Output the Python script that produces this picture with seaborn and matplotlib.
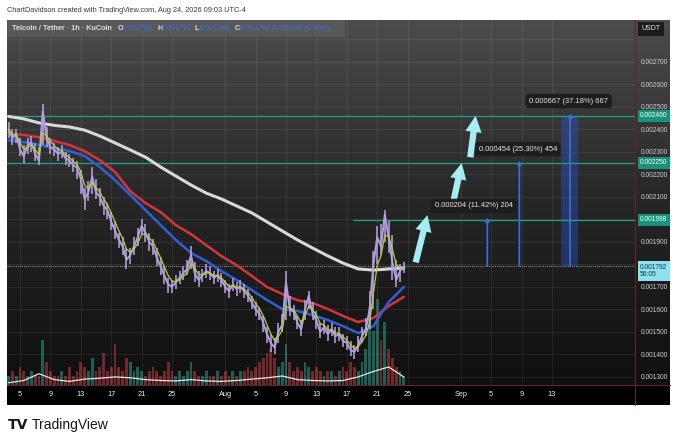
import numpy as np
import pandas as pd
import matplotlib
matplotlib.use('Agg')
import matplotlib.pyplot as plt
import matplotlib.dates as mdates
import matplotlib.transforms as mtransforms
from matplotlib.colors import LinearSegmentedColormap
from matplotlib.patches import FancyArrowPatch, Rectangle
from matplotlib.lines import Line2D
import seaborn as sns

# --- data (TEL/USDT, 1h, KuCoin) ---
# closes, highs, lows sampled every 12h from Jul 3 12:00 to Aug 24
price = [
    0.00240, 0.00236, 0.00238, 0.00231, 0.00228, 0.00233, 0.00234, 0.00229, 0.00226, 0.00248,
    0.00236, 0.00232, 0.00231, 0.00229, 0.00230, 0.00227, 0.00226, 0.00224, 0.00223, 0.00218,
    0.00209, 0.00212, 0.00219, 0.00212, 0.00210, 0.00206, 0.00204, 0.00199, 0.00195, 0.00191,
    0.00188, 0.00182, 0.00184, 0.00188, 0.00192, 0.00197, 0.00194, 0.00190, 0.00188, 0.00183,
    0.00179, 0.00175, 0.00171, 0.00170, 0.00172, 0.00174, 0.00176, 0.00178, 0.00184, 0.00176,
    0.00173, 0.00175, 0.00177, 0.00176, 0.00174, 0.00175, 0.00173, 0.00170, 0.00168, 0.00171,
    0.00169, 0.00170, 0.00168, 0.00166, 0.00163, 0.00160, 0.00158, 0.00154, 0.00149, 0.00145,
    0.00143, 0.00150, 0.00153, 0.00172, 0.00160, 0.00159, 0.00154, 0.00151, 0.00160, 0.00166,
    0.00158, 0.00155, 0.00150, 0.00152, 0.00149, 0.00151, 0.00148, 0.00149, 0.00146, 0.00145,
    0.00142, 0.00141, 0.00144, 0.00148, 0.00151, 0.00160, 0.00180, 0.00192, 0.00188, 0.00202,
    0.00192, 0.00181, 0.00173, 0.00177, 0.00179,
]
high = [
    0.00243, 0.00240, 0.00240, 0.00236, 0.00233, 0.00236, 0.00237, 0.00234, 0.00232, 0.00251,
    0.00241, 0.00236, 0.00234, 0.00232, 0.00233, 0.00230, 0.00229, 0.00227, 0.00226, 0.00222,
    0.00214, 0.00217, 0.00223, 0.00218, 0.00214, 0.00210, 0.00207, 0.00203, 0.00199, 0.00194,
    0.00192, 0.00187, 0.00187, 0.00192, 0.00196, 0.00200, 0.00198, 0.00194, 0.00191, 0.00187,
    0.00183, 0.00179, 0.00174, 0.00173, 0.00175, 0.00177, 0.00179, 0.00182, 0.00188, 0.00181,
    0.00177, 0.00178, 0.00180, 0.00179, 0.00177, 0.00178, 0.00176, 0.00173, 0.00171, 0.00174,
    0.00172, 0.00173, 0.00171, 0.00169, 0.00166, 0.00163, 0.00161, 0.00157, 0.00152, 0.00149,
    0.00147, 0.00154, 0.00158, 0.00177, 0.00166, 0.00162, 0.00157, 0.00155, 0.00164, 0.00168,
    0.00163, 0.00159, 0.00154, 0.00155, 0.00153, 0.00154, 0.00152, 0.00152, 0.00149, 0.00148,
    0.00146, 0.00144, 0.00148, 0.00152, 0.00156, 0.00168, 0.00186, 0.00197, 0.00198, 0.00204,
    0.00199, 0.00193, 0.00182, 0.00180, 0.00181,
]
low = [
    0.00236, 0.00233, 0.00234, 0.00228, 0.00225, 0.00229, 0.00230, 0.00226, 0.00224, 0.00233,
    0.00232, 0.00229, 0.00228, 0.00226, 0.00227, 0.00224, 0.00223, 0.00221, 0.00218, 0.00211,
    0.00204, 0.00208, 0.00211, 0.00209, 0.00206, 0.00202, 0.00200, 0.00195, 0.00191, 0.00187,
    0.00184, 0.00178, 0.00180, 0.00184, 0.00188, 0.00193, 0.00190, 0.00186, 0.00184, 0.00179,
    0.00175, 0.00171, 0.00167, 0.00167, 0.00169, 0.00171, 0.00173, 0.00175, 0.00178, 0.00172,
    0.00170, 0.00172, 0.00174, 0.00173, 0.00171, 0.00172, 0.00170, 0.00167, 0.00165, 0.00168,
    0.00166, 0.00167, 0.00165, 0.00163, 0.00160, 0.00157, 0.00155, 0.00150, 0.00145, 0.00141,
    0.00140, 0.00145, 0.00150, 0.00155, 0.00157, 0.00155, 0.00151, 0.00148, 0.00155, 0.00160,
    0.00155, 0.00151, 0.00147, 0.00149, 0.00146, 0.00148, 0.00145, 0.00146, 0.00143, 0.00142,
    0.00139, 0.00138, 0.00141, 0.00145, 0.00148, 0.00151, 0.00160, 0.00180, 0.00184, 0.00190,
    0.00185, 0.00173, 0.00170, 0.00172, 0.00176,
]
volume = [
    2, 3, 2, 4, 3, 2, 3, 2, 2, 10,
    5, 3, 2, 2, 3, 2, 4, 2, 3, 5,
    4, 3, 6, 3, 4, 7, 3, 4, 9, 4,
    3, 6, 5, 3, 4, 3, 2, 3, 4, 3,
    2, 3, 5, 3, 2, 3, 2, 3, 5, 3,
    2, 2, 3, 2, 2, 3, 2, 3, 2, 3,
    2, 3, 3, 4, 3, 4, 5, 6, 7, 8,
    6, 4, 5, 9, 5, 3, 4, 3, 5, 4,
    3, 4, 3, 2, 3, 3, 2, 3, 4, 3,
    5, 4, 3, 5, 8, 17, 12, 19, 10, 14,
    8, 6, 4, 3, 2,
]
# moving averages sampled every 2 days
ma_white = [0.002457, 0.002446, 0.002428, 0.002417, 0.002410, 0.002396, 0.002370, 0.002339, 0.002308,
            0.002276, 0.002232, 0.002192, 0.002152, 0.002116, 0.002090, 0.002059, 0.002028, 0.001988,
            0.001948, 0.001908, 0.001872, 0.001837, 0.001805, 0.001779, 0.001774, 0.001779, 0.001783]
ma_red = [0.002383, 0.002374, 0.002365, 0.002348, 0.002330, 0.002303, 0.002263, 0.002210, 0.002125,
          0.002072, 0.002032, 0.001974, 0.001934, 0.001885, 0.001836, 0.001796, 0.001748, 0.001699,
          0.001668, 0.001640, 0.001628, 0.001601, 0.001570, 0.001543, 0.001561, 0.001614, 0.001655]
ma_blue = [0.002352, 0.002343, 0.002330, 0.002317, 0.002303, 0.002281, 0.002232, 0.002174, 0.002108,
           0.002041, 0.001974, 0.001908, 0.001850, 0.001814, 0.001770, 0.001730, 0.001685, 0.001641,
           0.001601, 0.001592, 0.001574, 0.001552, 0.001525, 0.001494, 0.001525, 0.001632, 0.001699]
vol_ma = [0.5, 1.0, 2.5, 1.2, 0.8, 1.3, 1.5, 1.8, 1.6, 1.2, 1.0, 0.9, 1.2, 0.9,
          0.8, 1.0, 1.3, 1.6, 2.0, 1.2, 1.0, 0.9, 1.0, 1.8, 3.0, 4.0, 1.8]

levels = [0.002460, 0.002250, 0.001998]
last_price = 0.001792
targets = ['0.000204 (11.42%) 204', '0.000454 (25.30%) 454', '0.000667 (37.18%) 667']

price_dates = pd.date_range('2026-07-03 12:00', periods=len(price), freq='12h')
ma_dates = pd.date_range('2026-07-03 12:00', periods=len(ma_white), freq='2D')
t0 = pd.Timestamp('2026-07-01')

def day(d):
    return mdates.date2num(t0 + pd.Timedelta(days=d))

# --- figure layout (pixel based) ---
W, H = 679, 444
sns.set_style('dark')
plt.rcParams['font.family'] = ['Liberation Sans', 'DejaVu Sans']
fig = plt.figure(figsize=(W / 100, H / 100), dpi=100, facecolor='white')

def fx(px):
    return px / W

def fy(py):
    return 1 - py / H

rect = [fx(7), fy(385), fx(635) - fx(7), fy(20) - fy(385)]

# panel background with gradient
bg = fig.add_axes([fx(7), fy(405), fx(670) - fx(7), fy(20) - fy(405)])
bg.set_facecolor('black')
cmap = LinearSegmentedColormap.from_list('tv', ['#0f0f0f', '#262626', '#4c4c4c'])
grad = np.linspace(0, 1, 256).reshape(-1, 1)
bg.imshow(grad, cmap=cmap, origin='lower', aspect='auto', extent=[0, 1, 20 / 385, 1])
bg.set_xlim(0, 1)
bg.set_ylim(0, 1)
bg.set_xticks([])
bg.set_yticks([])
for s in bg.spines.values():
    s.set_visible(False)

# volume pane (behind)
vax = fig.add_axes(rect)
vax.patch.set_alpha(0)
up = [True] + [price[i] >= price[i - 1] for i in range(1, len(price))]
vcol = ['#1f7366' if u else '#8a2f33' for u in up]
vax.bar(price_dates, volume, width=0.36, color=vcol, alpha=0.8, edgecolor='none', linewidth=0)
sns.lineplot(x=ma_dates, y=vol_ma, ax=vax, color='#e6e6e6', lw=0.9)
vax.set_ylim(0, 81)
vax.axis('off')

# price pane
ax = fig.add_axes(rect, sharex=vax)
ax.patch.set_alpha(0)
sns.lineplot(x=ma_dates, y=ma_white, ax=ax, color='#d8d8d8', lw=2.2, zorder=3)
sns.lineplot(x=ma_dates, y=ma_red, ax=ax, color='#d5343c', lw=1.8, zorder=3)
sns.lineplot(x=ma_dates, y=ma_blue, ax=ax, color='#2f5fd6', lw=1.8, zorder=3)
ax.vlines(price_dates, low, high, color='#b8a6e6', lw=1.1, zorder=4)
sns.lineplot(x=price_dates, y=price, ax=ax, color='#b29fe0', lw=1.4, zorder=4)
ema = pd.Series(price).ewm(span=3).mean()
sns.lineplot(x=price_dates, y=ema.values, ax=ax, color='#b3d433', lw=0.9, zorder=5)

ax.set_xlim(day(2.29), day(84.92))
ax.set_ylim(0.0012633, 0.0028853)

tick_days = [4, 8, 12, 16, 20, 24, 31, 35, 39, 43, 47, 51, 55, 62, 66, 70, 74]
tick_labels = ['5', '9', '13', '17', '21', '25', 'Aug', '5', '9', '13', '17', '21', '25',
               'Sep', '5', '9', '13']
ax.set_xticks([day(d) for d in tick_days])
ax.set_xticklabels(tick_labels)
yt = [round(0.0013 + 0.0001 * i, 4) for i in range(16)]
ax.set_yticks(yt)
ax.set_yticklabels(['' if v in (0.0018, 0.002, 0.0028) else f'{v:.6f}' for v in yt])
for lab, v in zip(ax.get_yticklabels(), yt):
    if v in (0.0025, 0.0015):
        lab.set_color('white')
        lab.set_fontweight('bold')
ax.yaxis.tick_right()
ax.tick_params(axis='y', length=0, pad=4, labelsize=4.8, labelcolor='#cfcfcf')
ax.tick_params(axis='x', length=0, pad=4.5, labelsize=5.3, labelcolor='#f0f0f0')
ax.grid(True, color='white', alpha=0.09, lw=0.6)
for s in ax.spines.values():
    s.set_visible(False)
ax.set_xlabel('')
ax.set_ylabel('')

# horizontal levels
ax.axhline(levels[0], color='#1fa088', lw=0.9, zorder=2)
ax.axhline(levels[1], color='#1fa088', lw=0.9, zorder=2)
ax.axhline(levels[2], xmin=(353 - 7) / 628, color='#1fa088', lw=0.9, zorder=2)
ax.axhline(last_price, color='#c8c8c8', lw=0.6, ls=(0, (1, 1.5)), zorder=2)

trans = mtransforms.blended_transform_factory(ax.transAxes, ax.transData)
for lv in levels:
    ax.text(1.008, lv, f'{lv:.6f}', transform=trans, ha='left', va='center', fontsize=4.8,
            color='white', bbox=dict(boxstyle='square,pad=0.35', fc='#17937d', ec='none'))
ax.text(1.008, last_price - 0.000022, f'{last_price:.6f}\n56:05', transform=trans, ha='left',
        va='center', fontsize=4.8, color='#0d3a4a', linespacing=1.1,
        bbox=dict(boxstyle='square,pad=0.35', fc='#8fe1ef', ec='none'))

# measurement bars
bar_col = '#3b6fe6'
ax.fill_betweenx([last_price, levels[2]], day(65.3), day(65.6), color=bar_col, alpha=0.35, lw=0)
ax.vlines(day(65.45), last_price, levels[2], color=bar_col, lw=1.0)
ax.fill_betweenx([last_price, levels[1]], day(69.5), day(69.8), color=bar_col, alpha=0.35, lw=0)
ax.vlines(day(69.66), last_price, levels[1], color=bar_col, lw=1.0)
ax.fill_betweenx([last_price, levels[0]], day(75.2), day(77.4), color='#2d55c8', alpha=0.4, lw=0)
ax.vlines(day(76.37), last_price, levels[0], color=bar_col, lw=1.2)
for d, lv in [(65.45, levels[2]), (69.66, levels[1]), (76.37, levels[0])]:
    ax.plot([day(d)], [lv], marker='^', ms=2.5, color=bar_col)

# target labels
for d, p, txt in [(63.7, 0.002059, targets[0]), (69.5, 0.002312, targets[1]),
                  (76.2, 0.002525, targets[2])]:
    ax.text(day(d), p, txt, ha='center', va='center', fontsize=5.4, color='#e6e6e6', zorder=8,
            bbox=dict(boxstyle='round,pad=0.5', fc='#1d1d1d', ec='none', alpha=0.95))

# arrows
for (d0, p0), (d1, p1) in [((55.97, 0.001796), (57.7, 0.00203)),
                           ((60.97, 0.002070), (62.2, 0.002262)),
                           ((63.2, 0.002263), (64.0, 0.002472))]:
    ax.add_patch(FancyArrowPatch((day(d0), p0), (day(d1), p1),
                                 arrowstyle='simple,head_length=0.9,head_width=0.9,tail_width=0.35',
                                 mutation_scale=13, color='#a6ecf1', lw=0, zorder=7))

# frame lines
fig.add_artist(Line2D([fx(635), fx(635)], [fy(20), fy(405)], color='#5e2628', lw=0.8))
fig.add_artist(Line2D([fx(7), fx(670)], [fy(385), fy(385)], color='#5e2628', lw=0.8))

# header bar
fig.add_artist(Rectangle((fx(7), fy(37)), fx(345) - fx(7), fy(20) - fy(37),
                         transform=fig.transFigure, fc='#5c5c5c', ec='none', alpha=0.8))
fig.text(fx(12), fy(28.5), 'Telcoin / Tether · 1h · KuCoin', fontsize=5.2, color='#e0e0e0',
         fontweight='bold', va='center')
for x0, k, v in [(118, 'O', '0.001788'), (157, 'H', '0.001792'), (195, 'L', '0.001788'),
                 (235, 'C', '0.001792 0.000000 (0.00%)')]:
    fig.text(fx(x0), fy(28.5), k, fontsize=5.2, color='#e0e0e0', fontweight='bold', va='center')
    fig.text(fx(x0 + 4.5), fy(28.5), v, fontsize=5.2, color='#3d6fe0', va='center')
fig.text(fx(651), fy(29), 'USDT', fontsize=5, color='#e8e8e8', ha='center', va='center',
         bbox=dict(boxstyle='square,pad=0.5', fc='#1b1b1b', ec='none'))

fig.text(fx(7), fy(10), 'ChartDavidson created with TradingView.com, Aug 24, 2026 09:03 UTC-4',
         fontsize=5.3, color='#3a3a3a', va='center')
fig.text(fx(8), fy(425), 'TV', fontsize=10, color='#131722', fontweight='heavy', va='center',
         family='DejaVu Sans')
fig.text(fx(32), fy(425), 'TradingView', fontsize=10, color='#131722', va='center')

fig.savefig('out.png', dpi=100, facecolor='white')
